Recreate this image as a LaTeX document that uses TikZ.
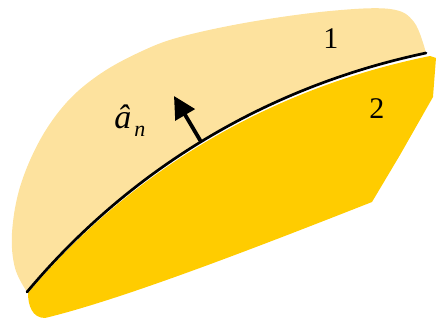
\documentclass[tikz,border=0pt]{standalone}
\usepackage{fontspec}
\setmainfont{Liberation Serif}
\usetikzlibrary{arrows.meta}
\definecolor{lightgold}{HTML}{FDE29E}
\definecolor{darkgold}{HTML}{FFCC00}
\tikzset{
  lbl/.style={inner sep=0pt, font=\fontsize{15}{18}\selectfont},
  iface/.style={line width=1.35pt, line cap=round},
  normal/.style={line width=1.9pt, -{Triangle[length=11pt,width=11pt]}}
}
\begin{document}
\begin{tikzpicture}[x=0.5pt,y=-0.5pt]
\useasboundingbox (0,0) rectangle (436,320);
% region 1 (light)
\fill[lightgold] plot[smooth, tension=0.6] coordinates {(27,292) (15,268) (12,233) (20,187) (40,140) (67,102) (100,74) (140,52) (180,37) (250,22) (330,11) (390,9) (414,22) (426,53)}
  .. controls (260,88) and (125,175) .. (27,292) -- cycle;
% region 2 (dark)
\fill[darkgold] (28,293) .. controls (28,305) and (32,318) .. (45,318)
  .. controls (120,300) and (250,250) .. (372,202)
  -- (400,155) -- (433,97) -- (436,58) -- (430,56)
  .. controls (262,90) and (126,177) .. (28,293) -- cycle;
% interface
\coordinate (s) at (27,292);
\coordinate (e) at (426,53);
\coordinate (tip) at (174,96);
\draw[iface] (s) .. controls (125,175) and (260,88) .. coordinate[pos=0.5] (p) (e);
\draw[normal] (p) -- (tip);
\node[lbl, anchor=base west] (an) at (114,129) {\fontsize{17}{20}\selectfont\itshape â\hspace{1.5pt}\raisebox{-4pt}{\fontsize{11}{12}\selectfont n}};
\node[lbl] (one) at (331,39) {1};
\node[lbl] (two) at (377,109) {2};
\end{tikzpicture}
\end{document}
